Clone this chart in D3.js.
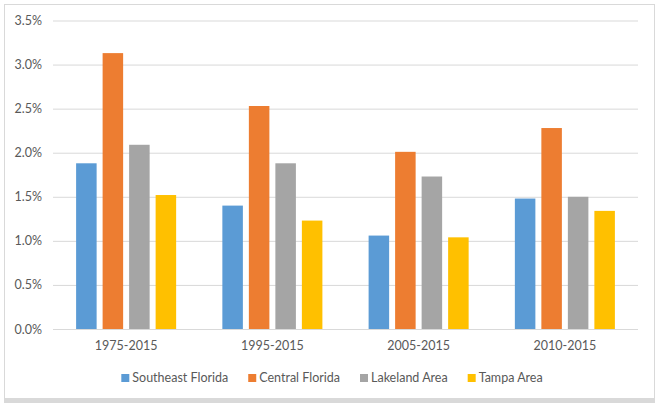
<!DOCTYPE html>
<html>
<head>
<meta charset="utf-8">
<script src="https://cdn.jsdelivr.net/npm/d3@7"></script>
<style>
  html, body { margin: 0; padding: 0; background: #fff; }
  svg { display: block; }
  text { font-family: Lato, "Open Sans", sans-serif; fill: #595959; }
</style>
</head>
<body>
<svg id="chart" width="662" height="407"></svg>
<script>
// ---- data ----
const categories = ["1975-2015", "1995-2015", "2005-2015", "2010-2015"];
const seriesNames = ["Southeast Florida", "Central Florida", "Lakeland Area", "Tampa Area"];
const southeastFlorida = [1.88, 1.40, 1.06, 1.48];
const centralFlorida   = [3.13, 2.53, 2.01, 2.28];
const lakelandArea     = [2.09, 1.88, 1.73, 1.50];
const tampaArea        = [1.52, 1.23, 1.04, 1.34];
const yTicks = [0, 0.5, 1.0, 1.5, 2.0, 2.5, 3.0, 3.5];
const colors = ["#5B9BD5", "#ED7D31", "#A5A5A5", "#FFC000"];

const seriesValues = [southeastFlorida, centralFlorida, lakelandArea, tampaArea];

// ---- layout ----
const svg = d3.select("#chart");
const plot = { left: 53, right: 638, top: 20.5, bottom: 329 };
const fontSize = 12.5;

// frame
svg.append("rect").attr("x", 4.5).attr("y", 4.5).attr("width", 650).attr("height", 394)
  .attr("fill", "#fff").attr("stroke", "#D9D9D9").attr("stroke-width", 1);
svg.append("rect").attr("x", 4).attr("y", 398).attr("width", 651).attr("height", 5)
  .attr("fill", "#D9D9D9");

const y = d3.scaleLinear().domain([0, 3.5]).range([plot.bottom, plot.top]);
const x0 = d3.scaleBand().domain(categories).range([plot.left, plot.right]).padding(0);
const groupW = x0.bandwidth() * 0.684;
const x1 = d3.scaleBand().domain(seriesNames)
  .range([(x0.bandwidth() - groupW) / 2, (x0.bandwidth() + groupW) / 2])
  .paddingInner(0.226).paddingOuter(0);

// gridlines + y labels
const yAxis = d3.axisLeft(y).tickValues(yTicks)
  .tickSize(-(plot.right - plot.left))
  .tickFormat(d => d.toFixed(1) + "%")
  .tickPadding(11);
const gy = svg.append("g").attr("transform", `translate(${plot.left},0)`).call(yAxis);
gy.select(".domain").remove();
gy.selectAll(".tick line").attr("stroke", "#D9D9D9").attr("stroke-width", 1);
gy.selectAll(".tick text").attr("font-size", fontSize).attr("fill", "#595959")
  .style("font-family", "Lato, 'Open Sans', sans-serif");

// bars
const groups = svg.append("g").selectAll("g").data(categories).join("g")
  .attr("transform", d => `translate(${x0(d)},0)`);
groups.selectAll("rect")
  .data((c, ci) => seriesNames.map((s, si) => ({ s, si, v: seriesValues[si][ci] })))
  .join("rect")
  .attr("x", d => x1(d.s))
  .attr("width", x1.bandwidth())
  .attr("y", d => y(d.v))
  .attr("height", d => y(0) - y(d.v))
  .attr("fill", d => colors[d.si]);

// baseline
svg.append("line").attr("x1", plot.left).attr("x2", plot.right)
  .attr("y1", y(0) + 0.5).attr("y2", y(0) + 0.5).attr("stroke", "#D9D9D9");

// x axis labels
const xAxis = d3.axisBottom(x0).tickSize(0).tickPadding(12);
const gx = svg.append("g").attr("transform", `translate(0,${plot.bottom})`).call(xAxis);
gx.select(".domain").remove();
gx.selectAll(".tick text").attr("font-size", fontSize).attr("fill", "#595959")
  .style("font-family", "Lato, 'Open Sans', sans-serif");

// legend
const legend = svg.append("g");
const items = legend.selectAll("g").data(seriesNames).join("g");
items.append("rect").attr("width", 8).attr("height", 8).attr("y", -4)
  .attr("fill", (d, i) => colors[i]);
items.append("text").attr("x", 11).attr("dy", "0.35em").attr("font-size", fontSize).text(d => d);
const gap = 20;
const widths = [];
items.each(function () { widths.push(11 + d3.select(this).select("text").node().getComputedTextLength()); });
const total = d3.sum(widths) + gap * (widths.length - 1);
const start = 332 - total / 2;
items.attr("transform", (d, i) => {
  const xx = start + d3.sum(widths.slice(0, i)) + gap * i;
  return `translate(${xx},378)`;
});
</script>
</body>
</html>
